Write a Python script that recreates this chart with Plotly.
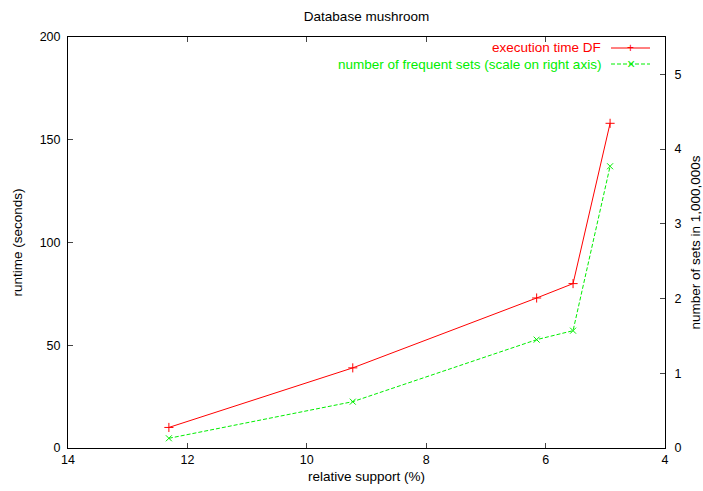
import plotly.graph_objects as go

support = [12.31, 9.23, 6.15, 5.54, 4.92]
runtime = [10, 39, 73, 80, 158]
freq_sets = [0.13, 0.62, 1.45, 1.57, 3.77]

x_ticks = [14, 12, 10, 8, 6, 4]
y_ticks = [0, 50, 100, 150, 200]
y2_ticks = [0, 1, 2, 3, 4, 5]

RED = "#ff0000"
GREEN = "#00ee00"
FONT = "Liberation Sans, Arial, sans-serif"
TXT = 13.5

fig = go.Figure()
fig.add_trace(go.Scatter(
    x=support, y=runtime, mode="lines+markers", name="execution time DF",
    line=dict(color=RED, width=1),
    marker=dict(symbol="cross-thin", size=6.5, line=dict(color=RED, width=1)),
    showlegend=False))
fig.add_trace(go.Scatter(
    x=support, y=freq_sets, mode="lines+markers", yaxis="y2",
    name="number of frequent sets (scale on right axis)",
    line=dict(color=GREEN, width=1, dash="4px,2px"),
    marker=dict(symbol="x-thin", size=6, line=dict(color=GREEN, width=1)),
    showlegend=False))

W, H = 703, 491
L, R, T, B = 68, 38, 37, 43
pw = W - L - R
ph = H - T - B

def px_x(p):
    return (p - L) / pw

def px_y(p):
    return 1 - (p - T) / ph

# manual gnuplot-style legend (text right, sample on the right)
legend_rows = [("execution time DF", RED, "solid", "+", 48),
               ("number of frequent sets (scale on right axis)", GREEN, "4px,2px", "×", 64)]
shapes = []
annotations = []
for text, col, dash, sym, yy in legend_rows:
    annotations.append(dict(xref="paper", yref="paper", x=px_x(603), y=px_y(yy),
                            xanchor="right", yanchor="middle", text=text, showarrow=False,
                            font=dict(family=FONT, size=TXT, color=col)))
    shapes.append(dict(type="line", xref="paper", yref="paper",
                       x0=px_x(611), x1=px_x(650), y0=px_y(yy), y1=px_y(yy),
                       line=dict(color=col, width=1, dash=dash)))
    annotations.append(dict(xref="paper", yref="paper", x=px_x(630.5), y=px_y(yy),
                            xanchor="center", yanchor="middle", text=sym, showarrow=False,
                            font=dict(family=FONT, size=12 if sym == "+" else 14, color=col)))

fig.update_layout(
    width=W, height=H,
    margin=dict(l=L, r=R, t=T, b=B, autoexpand=False),
    paper_bgcolor="white", plot_bgcolor="white",
    font=dict(family=FONT, size=12, color="black"),
    title=dict(text="Database mushroom", x=0.5, xref="paper", xanchor="center",
               y=1 - 16 / H, yref="container", yanchor="middle",
               font=dict(family=FONT, size=TXT, color="black")),
    xaxis=dict(range=[14, 4], tickvals=x_ticks, ticks="inside", ticklen=5,
               showline=True, linecolor="black", linewidth=1, mirror="ticks",
               showgrid=False, zeroline=False, tickfont=dict(size=12.5),
               title=dict(text="relative support (%)", standoff=5,
                          font=dict(family=FONT, size=TXT))),
    yaxis=dict(range=[0, 200], tickvals=y_ticks, ticks="inside", ticklen=5,
               showline=True, linecolor="black", linewidth=1, mirror=False,
               showgrid=False, zeroline=False, ticklabelstandoff=4, tickfont=dict(size=12.5),
               title=dict(text="runtime (seconds)", standoff=13,
                          font=dict(family=FONT, size=TXT))),
    yaxis2=dict(range=[0, 5.5], tickvals=y2_ticks, ticks="inside", ticklen=5,
                overlaying="y", side="right",
                showline=True, linecolor="black", linewidth=1,
                showgrid=False, zeroline=False, ticklabelstandoff=6, tickfont=dict(size=12.5),
                title=dict(text="number of sets in 1,000,000s", standoff=14,
                           font=dict(family=FONT, size=TXT))),
    shapes=shapes, annotations=annotations,
)

fig.write_html("out.html")
